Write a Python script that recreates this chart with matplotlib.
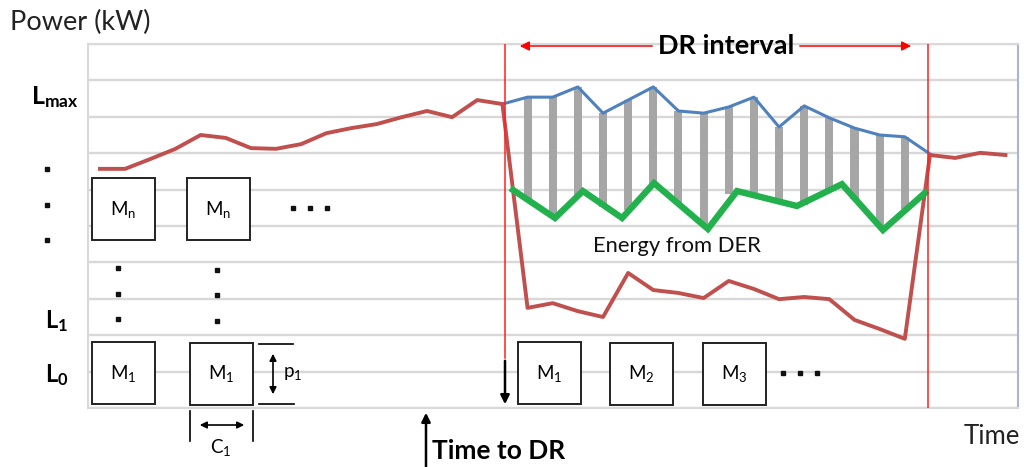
import numpy as np
from matplotlib import pyplot as plt
from matplotlib.patches import Rectangle

plt.rcParams['font.family'] = ['Lato', 'DejaVu Sans']
plt.rcParams['mathtext.fontset'] = 'custom'
plt.rcParams['mathtext.rm'] = 'Lato'
plt.rcParams['mathtext.bf'] = 'Lato:bold'
plt.rcParams['mathtext.it'] = 'Lato:italic'

# load profile (kW levels, 0..10), one point per time step
load = [6.57, 6.57, 6.84, 7.12, 7.50, 7.42, 7.14, 7.12, 7.25, 7.55, 7.69, 7.80,
        7.99, 8.16, 7.99, 8.46, 8.35,
        2.75, 2.88, 2.66, 2.50, 3.71, 3.24, 3.16, 3.02, 3.49, 3.27, 2.99, 3.05,
        2.99, 2.42, 2.17, 1.90,
        6.95, 6.87, 7.01, 6.95]
t_load = np.arange(len(load))

# baseline during DR interval
baseline = [8.35, 8.54, 8.54, 8.82, 8.10, 8.46, 8.82, 8.16, 8.10, 8.27, 8.54,
            7.72, 8.30, 7.97, 7.69, 7.50, 7.45, 6.98]
t_base = np.arange(16, 16 + len(baseline))

# energy from DER (green)
t_der = [16.42, 18.09, 19.20, 20.76, 22.03, 24.17, 25.33, 27.71, 29.50, 31.13, 32.80]
der = [5.99, 5.22, 5.96, 5.22, 6.18, 4.92, 5.96, 5.55, 6.15, 4.89, 5.91]

# gray bars: from DER line up to baseline
t_bar = np.arange(17, 33)
bar_bottom = [5.71, 5.25, 5.82, 5.52, 5.44, 6.15, 5.60, 5.05, 5.88, 5.80, 5.63,
              5.58, 5.99, 5.74, 4.97, 5.47]
bar_top = baseline[1:17]

dr_start, dr_end = 16.1, 32.92

W, H = 1024, 467
fig = plt.figure(figsize=(W / 100, H / 100), dpi=100)
ax = fig.add_axes([88 / W, 59 / H, 930 / W, 364 / H])
ax.set_xlim(-0.477, 36.5)
ax.set_ylim(0, 10)
ax.set_yticks(range(11))
ax.set_xticks([])
ax.tick_params(left=False, labelleft=False)
ax.grid(axis='y', color='#d8d8d8', lw=1.7)
ax.set_axisbelow(True)
for s in ['left', 'top', 'bottom']:
    ax.spines[s].set_color('#d9d9d9')
    ax.spines[s].set_linewidth(1.5)
ax.spines['right'].set_color('#a8b6d4')
ax.spines['right'].set_linewidth(1.5)

ax.bar(t_bar, np.array(bar_top) - np.array(bar_bottom), bottom=bar_bottom,
       width=0.32, color='#a6a6a6', zorder=2)
ax.plot(t_base, baseline, color='#4f81bd', lw=2.2, zorder=3)
ax.plot(t_load, load, color='#c0504d', lw=2.8, zorder=4)
ax.plot(t_der, der, color='#22b14c', lw=4.6, zorder=5, solid_joinstyle='miter')
ax.axvline(dr_start, ymin=0.137, ymax=1, color='#ff2020', lw=1.1, zorder=6)
ax.axvline(dr_end, color='#ff2020', lw=1.1, zorder=6)

# overlay in pixel units for the schematic annotations
ov = fig.add_axes([0, 0, 1, 1])
ov.set_xlim(0, W)
ov.set_ylim(H, 0)
ov.axis('off')
ov.patch.set_alpha(0)

boxes = [('M_n', 92, 178), ('M_n', 187, 178), ('M_1', 92, 342), ('M_1', 190, 343),
         ('M_1', 518, 342), ('M_2', 610, 343), ('M_3', 703, 343)]
for lab, bx, by in boxes:
    ov.add_patch(Rectangle((bx, by), 63, 62, facecolor='white', edgecolor='#222222', lw=1.4))
    ov.text(bx + 31.5, by + 31, r'$\mathrm{%s}$' % lab, ha='center', va='center', fontsize=13.5)

for xs, y in [([293, 310, 327], 208), ([783, 800, 817], 373)]:
    ov.plot(xs, [y] * 3, 's', color='#111111', ms=2.8)
for x, ys in [(118, [268, 294, 319]), (217, [270, 295, 321]), (47, [169, 205, 240])]:
    ov.plot([x] * 3, ys, 's', color='#111111', ms=2.8)

ov.text(10, 22, 'Power (kW)', ha='left', va='center', fontsize=19.5, color='#222222')
ov.text(726, 46, 'DR interval', ha='center', va='center', fontsize=19.5, fontweight='bold')
ov.annotate('', xy=(517, 46), xytext=(655, 46),
            arrowprops=dict(arrowstyle='-|>', color='#ff0000', lw=1.1, mutation_scale=14))
ov.annotate('', xy=(914, 46), xytext=(797, 46),
            arrowprops=dict(arrowstyle='-|>', color='#ff0000', lw=1.1, mutation_scale=14))

ov.text(79, 97, r'$\mathbf{L_{max}}$', ha='right', va='center', fontsize=18)
ov.text(45, 321, r'$\mathbf{L_1}$', ha='left', va='center', fontsize=17)
ov.text(45, 375, r'$\mathbf{L_0}$', ha='left', va='center', fontsize=17)
ov.text(677, 246, 'Energy from DER', ha='center', va='center', fontsize=15.8, color='#111111')

# p1 marker
ov.plot([259, 293], [344, 344], color='k', lw=1.2)
ov.plot([259, 294], [404, 404], color='k', lw=1.2)
ov.annotate('', xy=(273, 351), xytext=(273, 397),
            arrowprops=dict(arrowstyle='<|-|>', color='k', lw=1.2, mutation_scale=10))
ov.text(293, 374, r'$\mathrm{p_1}$', ha='center', va='center', fontsize=13.5)

# C1 marker
ov.plot([190, 190], [411, 441], color='k', lw=1.2)
ov.plot([253, 253], [411, 441], color='k', lw=1.2)
ov.annotate('', xy=(197, 425), xytext=(247, 425),
            arrowprops=dict(arrowstyle='<|-|>', color='k', lw=1.2, mutation_scale=10))
ov.text(221, 448, r'$\mathrm{C_1}$', ha='center', va='center', fontsize=13.5)

ov.annotate('', xy=(505, 407), xytext=(505, 358),
            arrowprops=dict(arrowstyle='-|>', color='k', lw=1.8, mutation_scale=13))
ov.annotate('', xy=(426, 410), xytext=(426, 470),
            arrowprops=dict(arrowstyle='-|>', color='k', lw=1.8, mutation_scale=13))
ov.text(432, 451, 'Time to DR', ha='left', va='center', fontsize=19, fontweight='bold')
ov.text(1020, 436, 'Time', ha='right', va='center', fontsize=18.5, color='#222222')

fig.savefig('out.png', dpi=100)
